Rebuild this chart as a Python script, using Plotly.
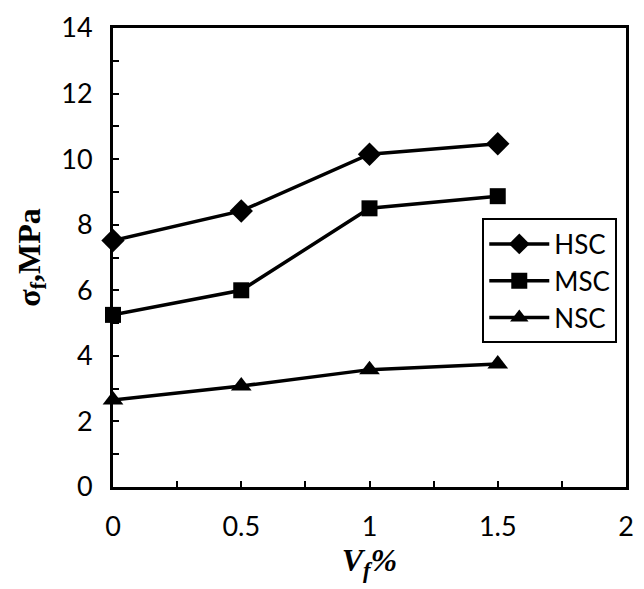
import plotly.graph_objects as go

vf = [0, 0.5, 1, 1.5]
hsc = [7.52, 8.42, 10.15, 10.47]
msc = [5.25, 6.0, 8.5, 8.87]
nsc = [2.65, 3.08, 3.58, 3.75]
series_names = ["HSC", "MSC", "NSC"]
x_ticks = [0, 0.5, 1, 1.5, 2]
x_tick_labels = ["0", "0.5", "1", "1.5", "2"]
y_ticks = [0, 2, 4, 6, 8, 10, 12, 14]

symbols = ["diamond", "square", "triangle-up"]
sizes = [18, 16, 18]

fig = go.Figure()
for name, vals, sym, sz in zip(series_names, [hsc, msc, nsc], symbols, sizes):
    fig.add_trace(go.Scatter(
        x=vf, y=vals, name=name, mode="lines+markers",
        line=dict(color="black", width=3.5),
        marker=dict(symbol=sym, size=sz, color="black"),
        cliponaxis=False,
    ))

axis_common = dict(
    showline=True, linecolor="black", linewidth=3, mirror=True,
    ticks="inside", tickcolor="black", tickwidth=2, ticklen=6,
    showgrid=False, zeroline=False,
    tickfont=dict(family="Lato", size=27, color="black"),
)

fig.update_layout(
    width=644, height=589,
    margin=dict(l=113, r=10, t=18, b=102),
    paper_bgcolor="white", plot_bgcolor="white",
    xaxis=dict(range=[0, 2], tickvals=x_ticks, ticktext=x_tick_labels,
               minor=dict(dtick=0.25, ticks="inside", ticklen=6, tickwidth=2, tickcolor="black"),
               ticklabelstandoff=14,
               title=dict(text="<b><i>V<sub>f</sub>%</i></b>",
                          font=dict(family="Liberation Serif", size=32, color="black"),
                          standoff=6),
               **axis_common),
    yaxis=dict(range=[0, 14], tickvals=y_ticks,
               minor=dict(dtick=1, ticks="inside", ticklen=6, tickwidth=2, tickcolor="black"),
               ticklabelstandoff=12,
               title=dict(text="<b>σ<sub>f</sub>,MPa</b>",
                          font=dict(family="Liberation Serif", size=32, color="black"),
                          standoff=12),
               **axis_common),
    legend=dict(x=0.983, xanchor="right", y=0.585, yanchor="top",
                bordercolor="black", borderwidth=2, bgcolor="white",
                font=dict(family="Lato", size=26, color="black"),
                itemwidth=60, tracegroupgap=0),
    showlegend=True,
)

fig.write_html("out.html")
